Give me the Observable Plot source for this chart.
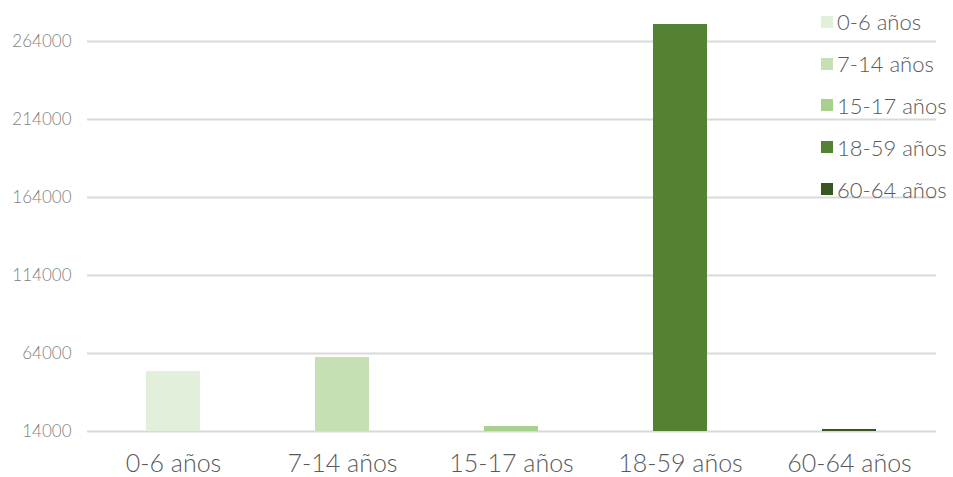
<!DOCTYPE html>
<html>
<head>
<meta charset="utf-8">
<script src="https://cdn.jsdelivr.net/npm/d3@7"></script>
<script src="https://cdn.jsdelivr.net/npm/@observablehq/plot@0.6"></script>
<style>
  html, body { margin: 0; padding: 0; background: #fff; }
  #wrap { position: relative; width: 953px; height: 477px; overflow: hidden; font-family: Lato, "Open Sans", sans-serif; font-weight: 300; }
  #legend { position: absolute; left: 821px; top: 1px; }
  .li { display: flex; align-items: center; height: 41.8px; font-size: 22px; color: #595959; white-space: nowrap; }
  .sw { width: 12px; height: 12px; margin-right: 4px; }
</style>
</head>
<body>
<div id="wrap"><div id="chart"></div><div id="legend"></div></div>
<script>
const categories = ["0-6 años", "7-14 años", "15-17 años", "18-59 años", "60-64 años"];
const values = [52500, 61400, 17200, 274900, 15300];
const colors = ["#e2efda", "#c6e0b4", "#a9d18e", "#548235", "#375623"];
const yTicks = [14000, 64000, 114000, 164000, 214000, 264000];
const axisMin = 14000;
const axisTickMax = 264000;

const data = categories.map((c, i) => ({cat: c, value: values[i], color: colors[i]}));

const chart = Plot.plot({
  width: 953,
  height: 477,
  marginLeft: 87,
  marginRight: 17,
  marginTop: 41,
  marginBottom: 46,
  style: {fontFamily: "Lato, 'Open Sans', sans-serif", fontWeight: 300, background: "transparent", overflow: "visible"},
  x: {domain: categories, paddingInner: 0.68, paddingOuter: 0.34},
  y: {domain: [axisMin, axisTickMax]},
  marks: [
    Plot.gridY(yTicks, {stroke: "#d9d9d9", strokeOpacity: 1, strokeWidth: 2}),
    Plot.barY(data, {x: "cat", y1: axisMin, y2: "value", fill: "color"}),
    Plot.axisY(yTicks, {tickSize: 0, tickPadding: 16, fontSize: 17, fill: "#7f7f7f", tickFormat: d => String(d), label: null}),
    Plot.axisX({tickSize: 0, tickPadding: 23, fontSize: 25, fill: "#595959", label: null})
  ]
});
document.getElementById("chart").appendChild(chart);

const legend = document.getElementById("legend");
categories.forEach((c, i) => {
  const row = document.createElement("div");
  row.className = "li";
  const sw = document.createElement("span");
  sw.className = "sw";
  sw.style.background = colors[i];
  const t = document.createElement("span");
  t.textContent = c;
  row.appendChild(sw); row.appendChild(t);
  legend.appendChild(row);
});
</script>
</body>
</html>
